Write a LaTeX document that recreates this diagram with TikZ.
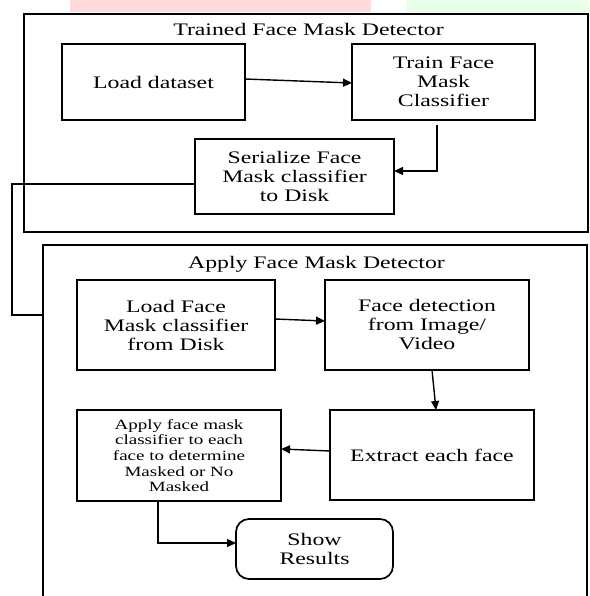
\documentclass[tikz,border=0pt]{standalone}
\usepackage{fontspec}
\setmainfont{Liberation Serif}[FakeStretch=1.35]
\usetikzlibrary{arrows.meta,calc}
\begin{document}
\begin{tikzpicture}[x=1pt,y=-1pt,
  box/.style={draw=black,line width=1.7pt,inner sep=0pt,outer sep=0pt,align=center,
    font=\fontsize{17.6}{19}\selectfont,text=black},
  smallbox/.style={box,font=\fontsize{14.1}{15.6}\selectfont},
  frame/.style={draw=black,line width=1.8pt},
  title/.style={anchor=base,inner sep=0pt,font=\fontsize{17.6}{19}\selectfont,text=black},
  conn/.style={draw=black,line width=1.4pt},
  arr/.style={conn,-{Triangle[length=9pt,width=8pt]}}]
\useasboundingbox (0,0) rectangle (589,596);
\fill[white] (0,0) rectangle (589,596);
% watermark fragments
\fill[red!14] (70,0) rectangle (371,12);
\fill[green!9] (406,0) rectangle (589,12);
% frames
\draw[frame] (24,14) rectangle (588,232);
\draw[frame] (43,596) -- (43,245) -- (587,245) -- (587,596);
\coordinate (aframeL) at (43,315);
\node[title] (t1) at (308.5,36) {Trained Face Mask Detector};
\node[title] (t2) at (316.5,268) {Apply Face Mask Detector};
% boxes
\node[box,minimum width=183pt,minimum height=76pt] (load) at (153.5,82) {Load dataset};
\node[box,minimum width=183pt,minimum height=76pt] (train) at (443.5,82) {Train Face\\Mask\\Classifier};
\node[box,minimum width=199pt,minimum height=75pt] (serial) at (294.5,176.5) {Serialize Face\\Mask classifier\\to Disk};
\node[box,minimum width=198pt,minimum height=90pt] (loadf) at (176,325) {Load Face\\Mask classifier\\from Disk};
\node[box,minimum width=204pt,minimum height=90pt] (detect) at (427,325) {Face detection\\from Image/\\Video};
\node[box,minimum width=204pt,minimum height=90pt] (extract) at (432,455) {Extract each face};
\node[smallbox,minimum width=204pt,minimum height=91pt] (apply) at (179,455.5) {Apply face mask\\classifier to each\\face to determine\\Masked or No\\Masked};
\node[box,rounded corners=13pt,minimum width=157pt,minimum height=60pt] (show) at (314.5,549) {Show\\Results};
% connectors
\draw[arr] ($(load.east)+(0,-3)$) -- ($(train.west)+(0,1)$);
\draw[arr] ($(train.south)+(-6.5,5)$) |- ($(serial.east)+(0,-5.5)$);
\draw[conn] ($(serial.west)+(0,7.5)$) -| (12,315) -- (aframeL);
\draw[arr] ($(loadf.east)+(0,-6)$) -- ($(detect.west)+(0,-4)$);
\draw[arr] ($(detect.south)+(5,0)$) -- ($(extract.north)+(4,0)$);
\draw[arr] ($(extract.west)+(0,-4)$) -- ($(apply.east)+(0,-6.5)$);
\draw[arr] ($(apply.south)+(-21,0)$) |- ($(show.west)+(0,-6)$);
\end{tikzpicture}
\end{document}
